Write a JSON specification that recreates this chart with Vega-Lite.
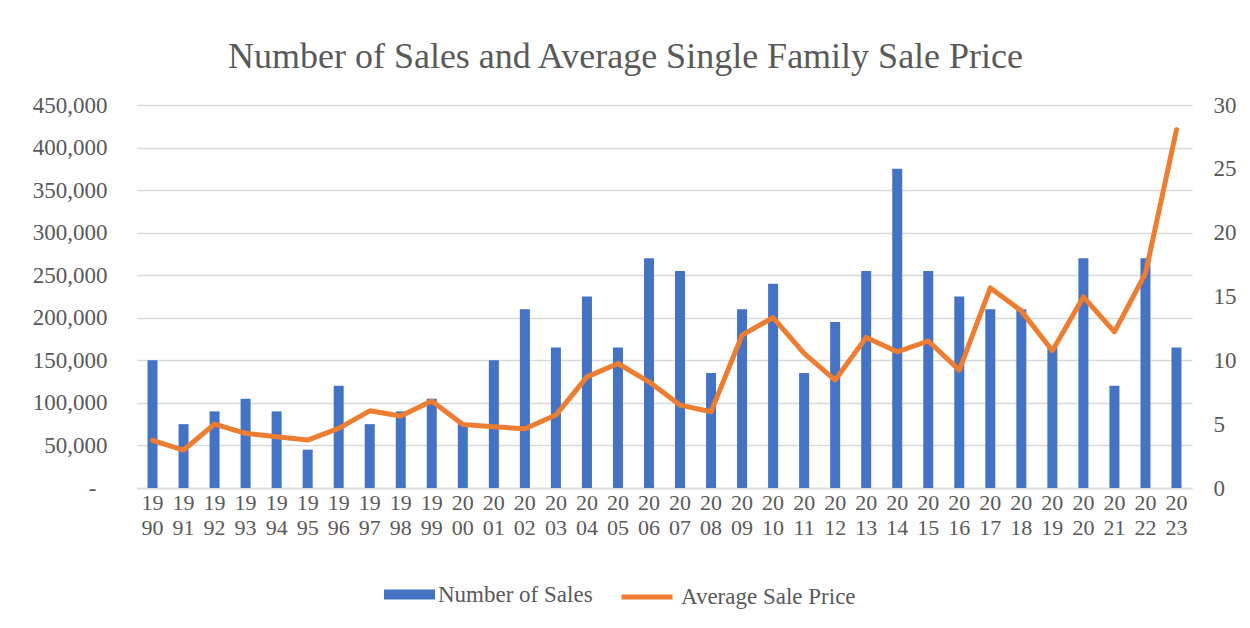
{
  "$schema": "https://vega.github.io/schema/vega-lite/v6.json",
  "width": 1055,
  "height": 383,
  "autosize": {"type": "none"},
  "padding": {"left": 137, "top": 105, "right": 58, "bottom": 140},
  "background": "white",
  "title": {
    "text": "Number of Sales and Average Single Family Sale Price",
    "font": "Liberation Serif",
    "fontSize": 36,
    "fontWeight": "normal",
    "color": "#595959",
    "anchor": "middle",
    "frame": "group",
    "dx": -39,
    "dy": 37,
    "baseline": "alphabetic",
    "offset": 27
  },
  "data": {
    "values": [
      {"year": "1990", "sales": 10, "price": 56000},
      {"year": "1991", "sales": 5, "price": 44600},
      {"year": "1992", "sales": 6, "price": 75100},
      {"year": "1993", "sales": 7, "price": 64200},
      {"year": "1994", "sales": 6, "price": 60200},
      {"year": "1995", "sales": 3, "price": 56300},
      {"year": "1996", "sales": 8, "price": 70000},
      {"year": "1997", "sales": 5, "price": 90700},
      {"year": "1998", "sales": 6, "price": 84500},
      {"year": "1999", "sales": 7, "price": 102100},
      {"year": "2000", "sales": 5, "price": 74700},
      {"year": "2001", "sales": 10, "price": 72000},
      {"year": "2002", "sales": 14, "price": 69600},
      {"year": "2003", "sales": 11, "price": 85700},
      {"year": "2004", "sales": 15, "price": 130600},
      {"year": "2005", "sales": 11, "price": 146300},
      {"year": "2006", "sales": 18, "price": 124800},
      {"year": "2007", "sales": 17, "price": 97400},
      {"year": "2008", "sales": 9, "price": 89600},
      {"year": "2009", "sales": 14, "price": 179600},
      {"year": "2010", "sales": 16, "price": 200300},
      {"year": "2011", "sales": 9, "price": 158100},
      {"year": "2012", "sales": 13, "price": 126800},
      {"year": "2013", "sales": 17, "price": 176900},
      {"year": "2014", "sales": 25, "price": 160000},
      {"year": "2015", "sales": 17, "price": 172700},
      {"year": "2016", "sales": 15, "price": 138500},
      {"year": "2017", "sales": 14, "price": 235100},
      {"year": "2018", "sales": 14, "price": 208100},
      {"year": "2019", "sales": 11, "price": 161200},
      {"year": "2020", "sales": 18, "price": 224500},
      {"year": "2021", "sales": 8, "price": 183500},
      {"year": "2022", "sales": 18, "price": 252000},
      {"year": "2023", "sales": 11, "price": 421000}
    ]
  },
  "encoding": {
    "x": {
      "field": "year",
      "type": "ordinal",
      "scale": {"paddingInner": 0, "paddingOuter": 0},
      "axis": {
        "title": null,
        "labelAngle": 0,
        "labelExpr": "[substring(datum.label,0,2), substring(datum.label,2,4)]",
        "labelFont": "Liberation Serif",
        "labelFontSize": 22,
        "labelColor": "#595959",
        "labelLineHeight": 25,
        "labelPadding": 4,
        "ticks": false,
        "domain": true,
        "domainColor": "#D9D9D9",
        "domainWidth": 1.3
      }
    }
  },
  "layer": [
    {
      "mark": {"type": "bar", "size": 10},
      "encoding": {
        "y": {
          "field": "sales",
          "type": "quantitative",
          "scale": {"domain": [0, 30], "nice": false},
          "axis": {
            "orient": "right",
            "title": null,
            "values": [0, 5, 10, 15, 20, 25, 30],
            "grid": false,
            "ticks": false,
            "domain": false,
            "labelFont": "Liberation Serif",
            "labelFontSize": 23,
            "labelColor": "#595959",
            "labelPadding": 21
          }
        },
        "color": {
          "datum": "Number of Sales",
          "scale": {"range": ["#4472C4"]},
          "legend": {
            "title": null,
            "orient": "none",
            "legendX": 247,
            "legendY": 464,
            "symbolType": "M-1,-0.196H1V0.196H-1Z",
            "symbolSize": 2601,
            "symbolStrokeWidth": 0,
            "labelFont": "Liberation Serif",
            "labelFontSize": 23,
            "labelColor": "#595959",
            "labelOffset": 3,
            "labelLimit": 400
          }
        }
      }
    },
    {
      "mark": {"type": "line", "strokeWidth": 5, "strokeCap": "round", "strokeJoin": "round"},
      "encoding": {
        "y": {
          "field": "price",
          "type": "quantitative",
          "scale": {"domain": [0, 450000], "nice": false},
          "axis": {
            "orient": "left",
            "title": null,
            "values": [0, 50000, 100000, 150000, 200000, 250000, 300000, 350000, 400000, 450000],
            "labelExpr": "datum.value == 0 ? '-' : format(datum.value, ',')",
            "grid": true,
            "gridColor": "#D9D9D9",
            "gridWidth": 1.3,
            "ticks": false,
            "domain": false,
            "labelFont": "Liberation Serif",
            "labelFontSize": 23,
            "labelColor": "#595959",
            "labelPadding": {"condition": {"test": "datum.value === 0", "value": 41}, "value": 30}
          }
        },
        "stroke": {
          "datum": "Average Sale Price",
          "scale": {"range": ["#ED7D31"]},
          "legend": {
            "title": null,
            "orient": "none",
            "legendX": 482,
            "legendY": 464,
            "symbolType": "stroke",
            "symbolSize": 2601,
            "symbolStrokeWidth": 5,
            "labelFont": "Liberation Serif",
            "labelFontSize": 23,
            "labelColor": "#595959",
            "labelOffset": 6,
            "labelLimit": 400
          }
        }
      }
    }
  ],
  "resolve": {"scale": {"y": "independent"}},
  "config": {"view": {"stroke": null}}
}
